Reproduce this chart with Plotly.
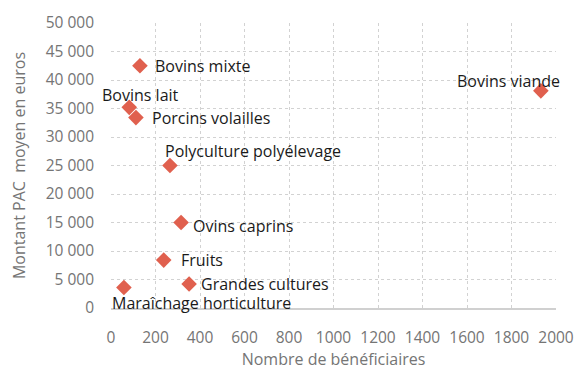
import plotly.graph_objects as go

# Orientations technico-économiques
categories = [
    "Bovins mixte", "Bovins lait", "Porcins volailles", "Polyculture polyélevage",
    "Ovins caprins", "Fruits", "Grandes cultures", "Maraîchage horticulture",
    "Bovins viande",
]
beneficiaires = [130, 82, 112, 265, 315, 237, 351, 58, 1932]
montant_moyen = [42500, 35200, 33400, 25000, 15000, 8400, 4200, 3600, 38100]

# Label placement: (xanchor, xshift, yshift) in pixels
label_style = [
    ("left", 14, 0),
    ("center", 11, 12),
    ("left", 15, 0),
    ("left", -6, 15),
    ("left", 11, -3),
    ("left", 16, 0),
    ("left", 11, 0),
    ("left", -13, -16),
    ("center", -32, 10),
]

FONT = "Open Sans"
GREY = "#757575"
MARKER = "#E0604E"

fig = go.Figure(
    go.Scatter(
        x=beneficiaires,
        y=montant_moyen,
        mode="markers",
        marker=dict(symbol="diamond", size=12, color=MARKER),
        hoverinfo="skip",
    )
)

for name, x, y, (anchor, dx, dy) in zip(categories, beneficiaires, montant_moyen, label_style):
    fig.add_annotation(
        x=x, y=y, text=name, showarrow=False,
        xanchor=anchor, yanchor="middle", xshift=dx, yshift=dy,
        borderpad=0,
        font=dict(family=FONT, size=16, color="#1a1a1a"),
    )

axis_common = dict(
    showgrid=True,
    gridcolor="#d2d2d2",
    griddash="dot",
    gridwidth=1,
    zeroline=False,
    automargin=False,
    tickfont=dict(family=FONT, size=15.5, color=GREY),
    title_font=dict(family=FONT, size=16, color=GREY),
    ticks="",
)

fig.update_xaxes(
    range=[0, 2000], dtick=200, tickformat="d",
    title_text="Nombre de bénéficiaires", title_standoff=9,
    ticklabelstandoff=15,
    showline=True, linecolor="#d0d0d0", linewidth=1.5,
    **axis_common,
)
fig.update_yaxes(
    range=[0, 50000], dtick=5000, tickformat=",d",
    title_text="Montant PAC\u00a0 moyen en euros", title_standoff=16,
    ticklabelstandoff=16,
    showline=False,
    **axis_common,
)

fig.update_layout(
    width=576, height=370,
    margin=dict(l=111, r=20, t=23, b=62),
    plot_bgcolor="white", paper_bgcolor="white",
    separators=", ",
    showlegend=False,
)

fig.write_html("out.html")
